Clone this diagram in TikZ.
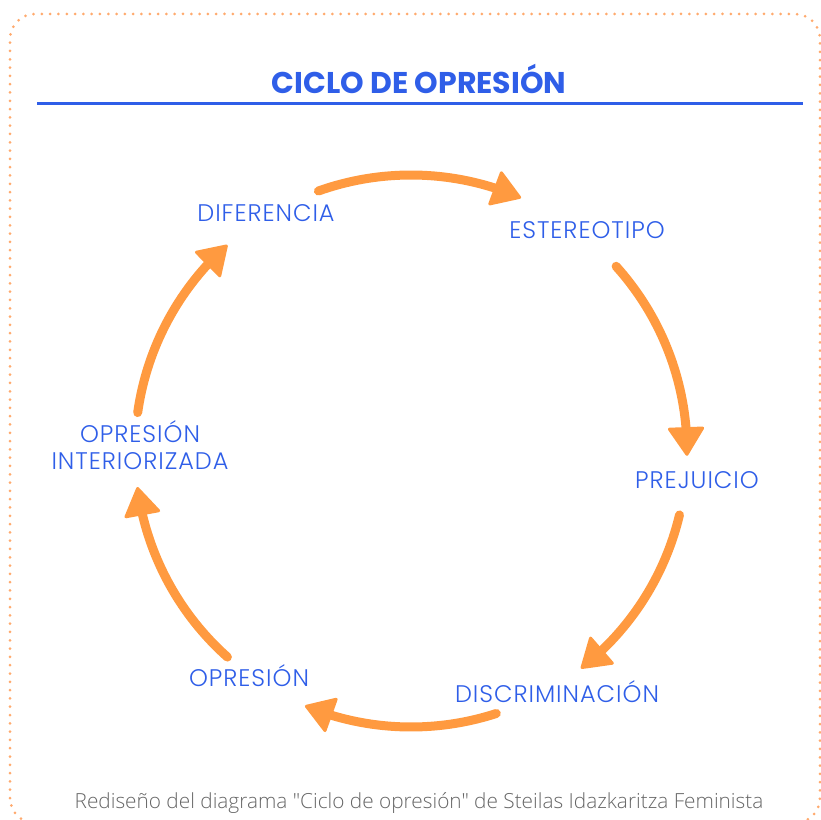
\documentclass[tikz,border=0pt]{standalone}
\usepackage{fontspec}
\usetikzlibrary{arrows.meta,bending}
\IfFontExistsTF{Poppins Light}{\newfontfamily\labfont[LetterSpace=4]{Poppins Light}}{\newfontfamily\labfont[LetterSpace=4]{Poppins}}
\newfontfamily\titfont{Poppins}
\IfFontExistsTF{Open Sans Light}{\newfontfamily\capfont{Open Sans Light}}{\newfontfamily\capfont{Open Sans}}
\definecolor{azul}{HTML}{2F5EE8}
\definecolor{naranja}{HTML}{FF9A40}
\definecolor{punto}{HTML}{FFAA6E}
\definecolor{gris}{HTML}{666666}

\begin{document}
\begin{tikzpicture}[
    x=1pt, y=1pt,
    etapa/.style={text=azul, anchor=base, align=center,
                  font=\labfont\fontsize{24}{27}\selectfont},
    titulo/.style={text=azul, anchor=base, font=\titfont\bfseries\fontsize{30}{34}\selectfont},
    nota/.style={text=gris, anchor=base, font=\capfont\fontsize{20.8}{24}\selectfont},
    flecha/.style={draw=naranja, line width=9pt, line cap=round,
                   -{Triangle[length=30pt,width=38pt,round,line width=3pt,flex]}},
  ]
    \clip (0,0) rectangle (821,819);
    \draw[punto, line width=3pt, line cap=round, dash pattern=on 0pt off 8.3pt,
          rounded corners=25pt] (10,-4) rectangle (820,805);

    \node[titulo] (tit) at (419,725) {CICLO DE OPRESIÓN};
    \draw[azul, line width=3pt] (37,715) -- (803,715);

    \coordinate (c) at (411,368);
    \node[etapa] (dif) at (266,597) {DIFERENCIA};
    \node[etapa] (est) at (587,580) {ESTEREOTIPO};
    \node[etapa] (pre) at (697,330) {PREJUICIO};
    \node[etapa] (dis) at (557,117) {DISCRIMINACIÓN};
    \node[etapa] (opr) at (249,132) {OPRESIÓN};
    \node[etapa] (int) at (140,349) {OPRESIÓN\\INTERIORIZADA};

    \draw[flecha] ([shift={(109.6:276)}]c) arc[start angle=109.6, end angle=66.5, radius=276];
    \draw[flecha] ([shift={(42:276)}]c)    arc[start angle=42,    end angle=-1,   radius=276];
    \draw[flecha] ([shift={(-13.4:276)}]c) arc[start angle=-13.4, end angle=-52,  radius=276];
    \draw[flecha] ([shift={(-72:276)}]c)   arc[start angle=-72,   end angle=-112.6, radius=276];
    \draw[flecha] ([shift={(228.3:276)}]c) arc[start angle=228.3, end angle=187.5, radius=276];
    \draw[flecha] ([shift={(172:276)}]c)   arc[start angle=172,   end angle=131.7, radius=276];

    \node[nota] (cap) at (419,11) {Rediseño del diagrama "Ciclo de opresión" de Steilas Idazkaritza Feminista};
  \end{tikzpicture}
\end{document}
